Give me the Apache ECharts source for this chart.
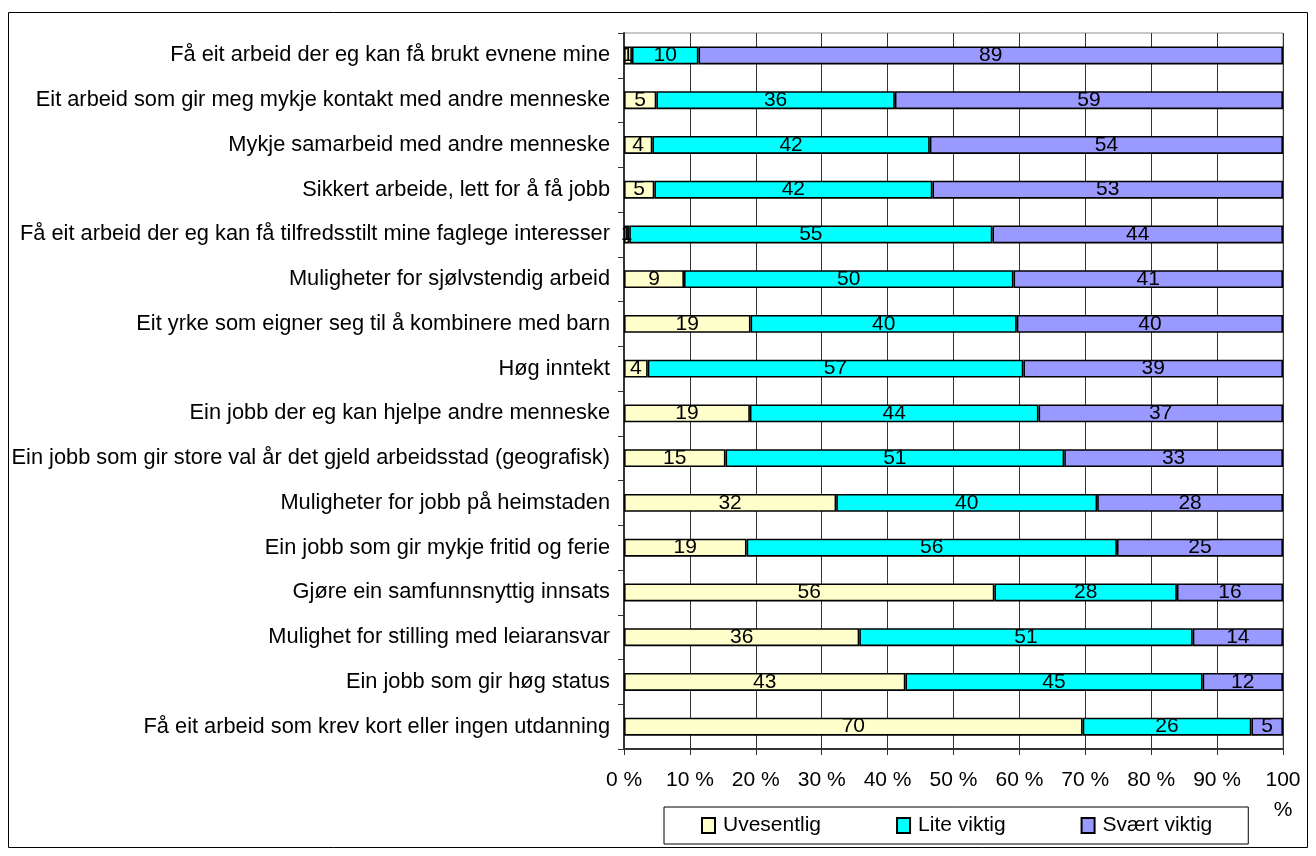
<!DOCTYPE html>
<html>
<head>
<meta charset="utf-8">
<title>Kva er viktig ved val av yrke</title>
<script src="https://cdn.jsdelivr.net/npm/echarts@6/dist/echarts.min.js"></script>
<style>
  html, body { margin: 0; padding: 0; background: #fff; }
  #chart { width: 1316px; height: 856px; }
</style>
</head>
<body>
<div id="chart"></div>
<script>
const categories = [
  'Få eit arbeid der eg kan få brukt evnene mine',
  'Eit arbeid som gir meg mykje kontakt med andre menneske',
  'Mykje samarbeid med andre menneske',
  'Sikkert arbeide, lett for å få jobb',
  'Få eit arbeid der eg kan få tilfredsstilt mine faglege interesser',
  'Muligheter for sjølvstendig arbeid',
  'Eit yrke som eigner seg til å kombinere med barn',
  'Høg inntekt',
  'Ein jobb der eg kan hjelpe andre menneske',
  'Ein jobb som gir store val år det gjeld arbeidsstad (geografisk)',
  'Muligheter for jobb på heimstaden',
  'Ein jobb som gir mykje fritid og ferie',
  'Gjøre ein samfunnsnyttig innsats',
  'Mulighet for stilling med leiaransvar',
  'Ein jobb som gir høg status',
  'Få eit arbeid som krev kort eller ingen utdanning'
]

const uvesentlig = [1.2, 4.9, 4.3, 4.6, 0.8, 9.1, 19.2, 3.6, 19.1, 15.4, 32.2, 18.6, 56.2, 35.7, 42.7, 69.6]
const liteViktig = [10.1, 36.2, 42.1, 42.2, 55.1, 50.0, 40.4, 57.0, 43.8, 51.4, 39.6, 56.2, 27.7, 50.6, 45.1, 25.6]
const svaertViktig = [88.7, 58.9, 53.6, 53.2, 44.1, 40.9, 40.4, 39.4, 37.1, 33.2, 28.2, 25.2, 16.1, 13.7, 12.2, 4.8]

const seriesNames = ['Uvesentlig', 'Lite viktig', 'Svært viktig']
const seriesColors = ['#FFFFCC', '#00FFFF', '#9999FF']
const xTicks = [0, 10, 20, 30, 40, 50, 60, 70, 80, 90, 100]

const FONT = 'Liberation Sans, Arial, sans-serif'
const FS = 21

const chart = echarts.init(document.getElementById('chart'))

const makeSeries = (name, data, color) => ({
  name,
  type: 'bar',
  stack: 'total',
  data,
  barWidth: 18,
  itemStyle: {
    color,
    borderColor: '#000',
    borderWidth: 1.6
  },
  label: {
    show: true,
    position: 'inside',
    color: '#000',
    fontFamily: FONT,
    fontSize: FS,
    formatter: p => Math.round(p.value)
  },
  emphasis: { disabled: true }
})

chart.setOption({
  animation: false,
  backgroundColor: '#fff',
  textStyle: { fontFamily: FONT },
  grid: {
    left: 624,
    right: 33,
    top: 33,
    bottom: 107,
    show: true,
    borderColor: '#909090',
    borderWidth: 1
  },
  legend: {
    data: seriesNames,
    left: 664,
    top: 807,
    orient: 'horizontal',
    itemWidth: 13,
    itemHeight: 15,
    itemGap: 75,
    padding: [8, 36, 8, 37],
    borderColor: '#000',
    borderWidth: 1,
    icon: 'rect',
    textStyle: { fontFamily: FONT, fontSize: FS, color: '#000', padding: [0, 0, 0, 3] }
  },
  xAxis: {
    type: 'value',
    min: 0,
    max: 100,
    interval: 10,
    axisLine: { show: true, lineStyle: { color: '#333', width: 2 } },
    axisTick: { show: true, length: 6, lineStyle: { color: '#333' } },
    splitLine: { show: true, lineStyle: { color: '#333', width: 1 } },
    axisLabel: {
      color: '#000',
      fontFamily: FONT,
      fontSize: FS,
      margin: 16,
      lineHeight: 30,
      formatter: v => xTicks.includes(v) ? (v === 100 ? '100\n%' : v + ' %') : ''
    }
  },
  yAxis: {
    type: 'category',
    data: categories,
    inverse: true,
    axisLine: { show: true, lineStyle: { color: '#333', width: 2 } },
    axisTick: { show: true, length: 6, lineStyle: { color: '#333' } },
    axisLabel: {
      color: '#000',
      fontFamily: FONT,
      fontSize: 21.8,
      margin: 14
    }
  },
  graphic: [{
    type: 'rect',
    shape: { x: 8.5, y: 12.5, width: 1299, height: 835 },
    style: { fill: 'none', stroke: '#000', lineWidth: 1 },
    silent: true,
    z: -1
  }],
  series: [
    makeSeries(seriesNames[0], uvesentlig, seriesColors[0]),
    makeSeries(seriesNames[1], liteViktig, seriesColors[1]),
    makeSeries(seriesNames[2], svaertViktig, seriesColors[2])
  ]
})

window.addEventListener('resize', () => chart.resize())
</script>
</body>
</html>
